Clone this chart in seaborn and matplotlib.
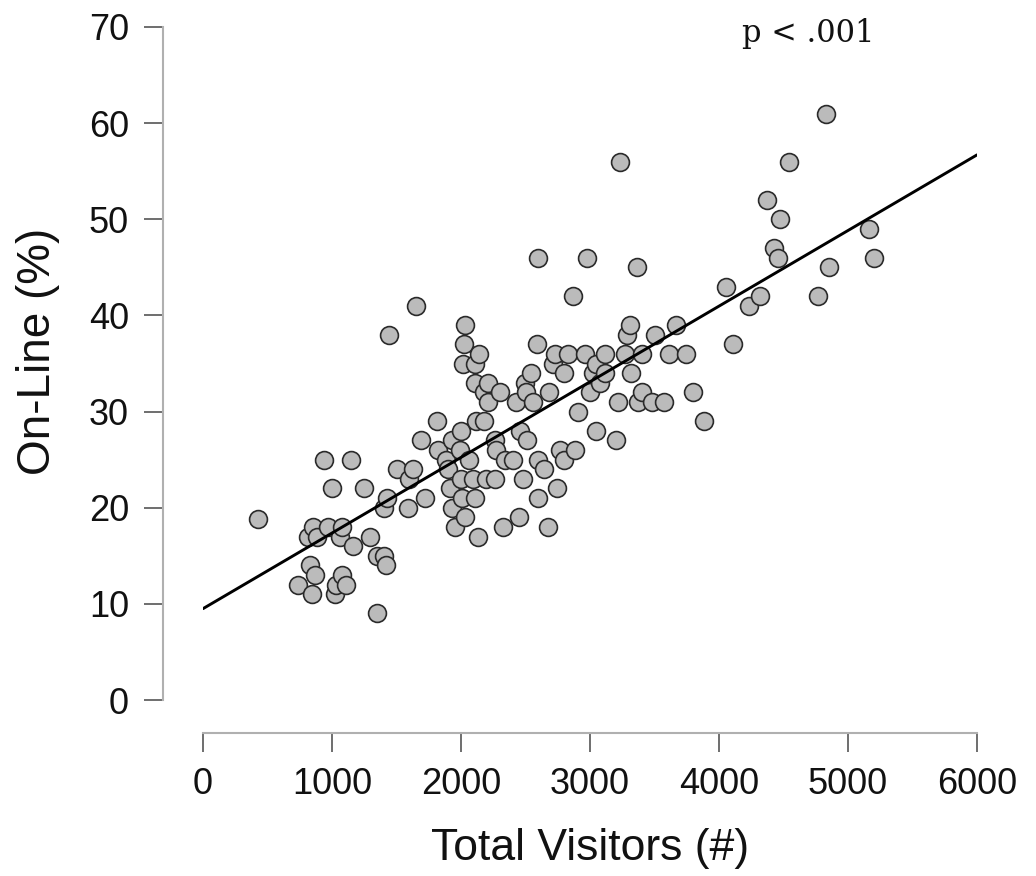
import matplotlib
matplotlib.use("Agg")
import matplotlib.pyplot as plt
import seaborn as sns
import pandas as pd

# ---- data ----
total_visitors = [
    430, 740, 815, 830, 845, 855, 870, 880, 940, 970,
    1000, 1025, 1030, 1060, 1075, 1075, 1110, 1145, 1165, 1250,
    1295, 1345, 1345, 1400, 1400, 1420, 1425, 1445, 1500, 1590,
    1600, 1625, 1650, 1690, 1720, 1815, 1820, 1880, 1900, 1915,
    1930, 1930, 1950, 1990, 2000, 2000, 2005, 2015, 2025, 2030,
    2030, 2060, 2095, 2110, 2110, 2110, 2120, 2135, 2140, 2175,
    2180, 2195, 2210, 2210, 2265, 2265, 2275, 2300, 2325, 2340,
    2405, 2430, 2450, 2455, 2480, 2495, 2505, 2510, 2545, 2560,
    2590, 2600, 2600, 2600, 2640, 2675, 2685, 2710, 2730, 2745,
    2765, 2795, 2795, 2830, 2865, 2885, 2910, 2960, 2975, 3000,
    3020, 3045, 3050, 3075, 3115, 3120, 3200, 3215, 3235, 3275,
    3290, 3310, 3320, 3365, 3370, 3400, 3405, 3480, 3505, 3570,
    3610, 3670, 3745, 3800, 3885, 4055, 4110, 4235, 4320, 4375,
    4425, 4455, 4475, 4540, 4770, 4830, 4855, 5165, 5205,
]
online_pct = [
    18.8, 12, 17, 14, 11, 18, 13, 17, 25, 18,
    22, 11, 12, 17, 18, 13, 12, 25, 16, 22,
    17, 15, 9, 15, 20, 14, 21, 38, 24, 20,
    23, 24, 41, 27, 21, 29, 26, 25, 24, 22,
    27, 20, 18, 26, 28, 23, 21, 35, 37, 39,
    19, 25, 23, 35, 33, 21, 29, 17, 36, 29,
    32, 23, 33, 31, 27, 23, 26, 32, 18, 25,
    25, 31, 19, 28, 23, 33, 32, 27, 34, 31,
    37, 46, 25, 21, 24, 18, 32, 35, 36, 22,
    26, 25, 34, 36, 42, 26, 30, 36, 46, 32,
    34, 35, 28, 33, 36, 34, 27, 31, 56, 36,
    38, 39, 34, 45, 31, 32, 36, 31, 38, 31,
    36, 39, 36, 32, 29, 43, 37, 41, 42, 52,
    47, 46, 50, 56, 42, 61, 45, 49, 46,
]
fit_x = [0, 6000]
fit_y = [9.5, 56.7]

x_ticks = [0, 1000, 2000, 3000, 4000, 5000, 6000]
y_ticks = [0, 10, 20, 30, 40, 50, 60, 70]
x_label = "Total Visitors (#)"
y_label = "On-Line (%)"
annotation = "p < .001"

df = pd.DataFrame({"visitors": total_visitors, "online": online_pct})
fit_df = pd.DataFrame({"visitors": fit_x, "online": fit_y})

sns.set_style("white")
plt.rcParams["font.family"] = ["Liberation Sans", "DejaVu Sans"]

W, H = 1036, 876
fig = plt.figure(figsize=(W / 100, H / 100), dpi=100)
ax = fig.add_axes([203 / W, 1 - 700 / H, 774 / W, 673 / H])

sns.lineplot(data=fit_df, x="visitors", y="online", color="black",
             linewidth=2.1, ax=ax, zorder=3)
sns.scatterplot(data=df, x="visitors", y="online", s=165,
                color="#bbbbbb", edgecolor="#2a2a2a", linewidth=1.2,
                ax=ax, zorder=2, clip_on=False)

ax.set_xlim(0, 6000)
ax.set_ylim(0, 70)
ax.set_xticks(x_ticks)
ax.set_yticks(y_ticks)
ax.set_xticklabels([str(t) for t in x_ticks])
ax.set_yticklabels([str(t) for t in y_ticks])

for s in ["top", "right"]:
    ax.spines[s].set_visible(False)
ax.spines["left"].set_position(("outward", 28.8))
ax.spines["bottom"].set_position(("outward", 23.8))
for s in ["left", "bottom"]:
    ax.spines[s].set_color("#b0b0b0")
    ax.spines[s].set_linewidth(1.5)

ax.tick_params(axis="both", which="major", direction="out", length=13.5,
               width=1.2, color="#555555", labelsize=26, pad=11,
               labelcolor="#111111", left=True, bottom=True)

ax.set_xlabel(x_label, fontsize=32, color="#111111")
ax.set_ylabel(y_label, fontsize=33, color="#111111")
ax.xaxis.set_label_coords(0.5, -0.19)
ax.yaxis.set_label_coords(-0.185, 0.518)

fig.text(808 / W, 1 - 42 / H, annotation, ha="center", va="baseline",
         fontsize=22, family=["DejaVu Serif"], color="#111111")

fig.savefig("out.png", dpi=100, facecolor="white")
